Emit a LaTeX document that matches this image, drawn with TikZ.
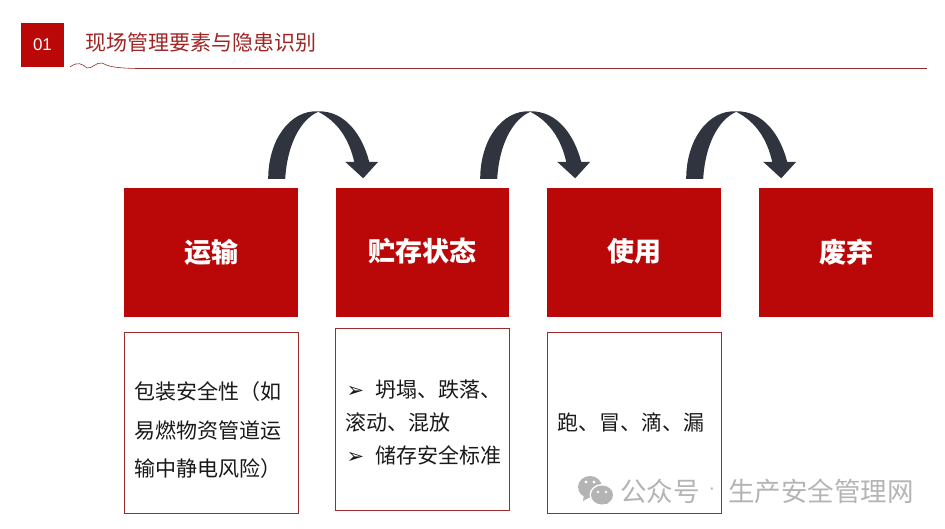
\documentclass[tikz,border=0pt]{standalone}
\usepackage{fontspec}
\setmainfont{Noto Sans CJK SC}
\newfontfamily\latinfont{Liberation Sans}
\newfontfamily\symfont{DejaVu Sans}
\usepackage{xcolor}
\usetikzlibrary{calc, positioning}
\definecolor{brandred}{HTML}{BA0808}
\definecolor{titlered}{HTML}{A02626}
\definecolor{ruleline}{HTML}{9A2B2B}
\definecolor{archdark}{HTML}{30343F}
\definecolor{wmgray}{HTML}{B4B4B4}
\newcommand{\bulletmark}{\makebox[30pt][l]{\hspace{1pt}{\symfont\fontsize{21pt}{21pt}\selectfont ➢}}}
\tikzset{
  stagebox/.style={fill=brandred, text=white, minimum width=174pt, minimum height=129pt,
    inner sep=0pt, font=\fontsize{27pt}{30pt}\selectfont\bfseries},
  notebox/.style={draw=ruleline, line width=0.8pt, fill=white, minimum width=174pt, text width=154pt,
    inner sep=0pt, inner xsep=10pt, align=left, text=black!90, font=\fontsize{21pt}{38.5pt}\selectfont},
  wmtext/.style={text=wmgray, inner sep=0pt, anchor=west, font=\fontsize{26.5pt}{27pt}\selectfont}
}
\begin{document}
\begin{tikzpicture}[x=1pt, y=-1pt]
\useasboundingbox (0,0) rectangle (945,529);

% header
\node[fill=brandred, text=white, minimum width=43pt, minimum height=44pt, inner sep=0pt,
  font=\latinfont\fontsize{17pt}{17pt}\selectfont] (tag) at (42.5,45) {01};
\node[text=titlered, inner sep=0pt, anchor=west, font=\fontsize{21pt}{21pt}\selectfont] (title) at (85,43) {现场管理要素与隐患识别};
\coordinate (ruleL) at (137,68.5);
\coordinate (ruleR) at (927,68.5);
\draw[ruleline, line width=0.9pt] (ruleL) -- (ruleR);
\draw[ruleline, line width=0.6pt] (70,67) .. controls (78,61) and (82,64) .. (87,68)
  .. controls (92,69) and (96,62) .. (102,63) .. controls (108,66) and (112,68) .. (ruleL);

% stages
\node[stagebox] (transport) at (211,252.5) {\raisebox{-2pt}{运输}};
\node[stagebox, minimum width=173pt] (storage) at (422.5,252.5) {\raisebox{6pt}{贮存状态}};
\node[stagebox] (usage) at (634,252.5) {\raisebox{6pt}{使用}};
\node[stagebox] (disposal) at (846,252.5) {\raisebox{-2pt}{废弃}};

% notes
\node[notebox, minimum height=181pt] (noteA) at (211.5,422.5) {\rule{0pt}{34pt}包装安全性（如\\易燃物资管道运\\输中静电风险）};
\node[notebox, minimum width=172.5pt, minimum height=182pt, font=\fontsize{21pt}{33pt}\selectfont] (noteB) at (422.7,419) {\rule{0pt}{24pt}\bulletmark 坍塌、跌落、\\滚动、混放\\\bulletmark 储存安全标准};
\node[notebox, minimum height=181pt] (noteC) at (634,422.5) {跑、冒、滴、漏};

% arcs
\foreach \from/\to/\dx in {transport/storage/0, storage/usage/1, usage/disposal/-5}{
  \begin{scope}[shift={($(\from.north east)+(\dx,0)$)}]
  \fill[archdark] (-30,-9) .. controls (-30,-48) and (-8,-78) .. (20,-76.5)
    .. controls (47,-77) and (64,-53) .. (71,-26)
    -- (80,-26) -- (65,-9.5) -- (47,-26) -- (56,-26)
    .. controls (51,-48) and (40,-66) .. (20,-76)
    .. controls (2,-68) and (-11,-43) .. (-13,-9) -- cycle;
  \end{scope}
}

% watermark
\fill[wmgray] (590,487) ellipse (12pt and 11pt);
\fill[wmgray] (584,494) -- (583,501) -- (592,496) -- cycle;
\fill[white] (602,495) ellipse (12.5pt and 11pt);
\fill[wmgray] (602,495) ellipse (11pt and 9.5pt);
\fill[wmgray] (605,502) -- (608,504) -- (600,503) -- cycle;
\fill[white] (586,482) circle (1.6pt) (594,482) circle (1.6pt) (598,492) circle (1.4pt) (606,492) circle (1.4pt);
\node[wmtext] (wmA) at (620,491) {公众号};
\node[wmtext] (wmB) at (728,491) {生产安全管理网};
\node[text=wmgray, inner sep=0pt, font=\latinfont\fontsize{20pt}{20pt}\selectfont] (wmDot) at (712,491) {·};
\end{tikzpicture}
\end{document}
